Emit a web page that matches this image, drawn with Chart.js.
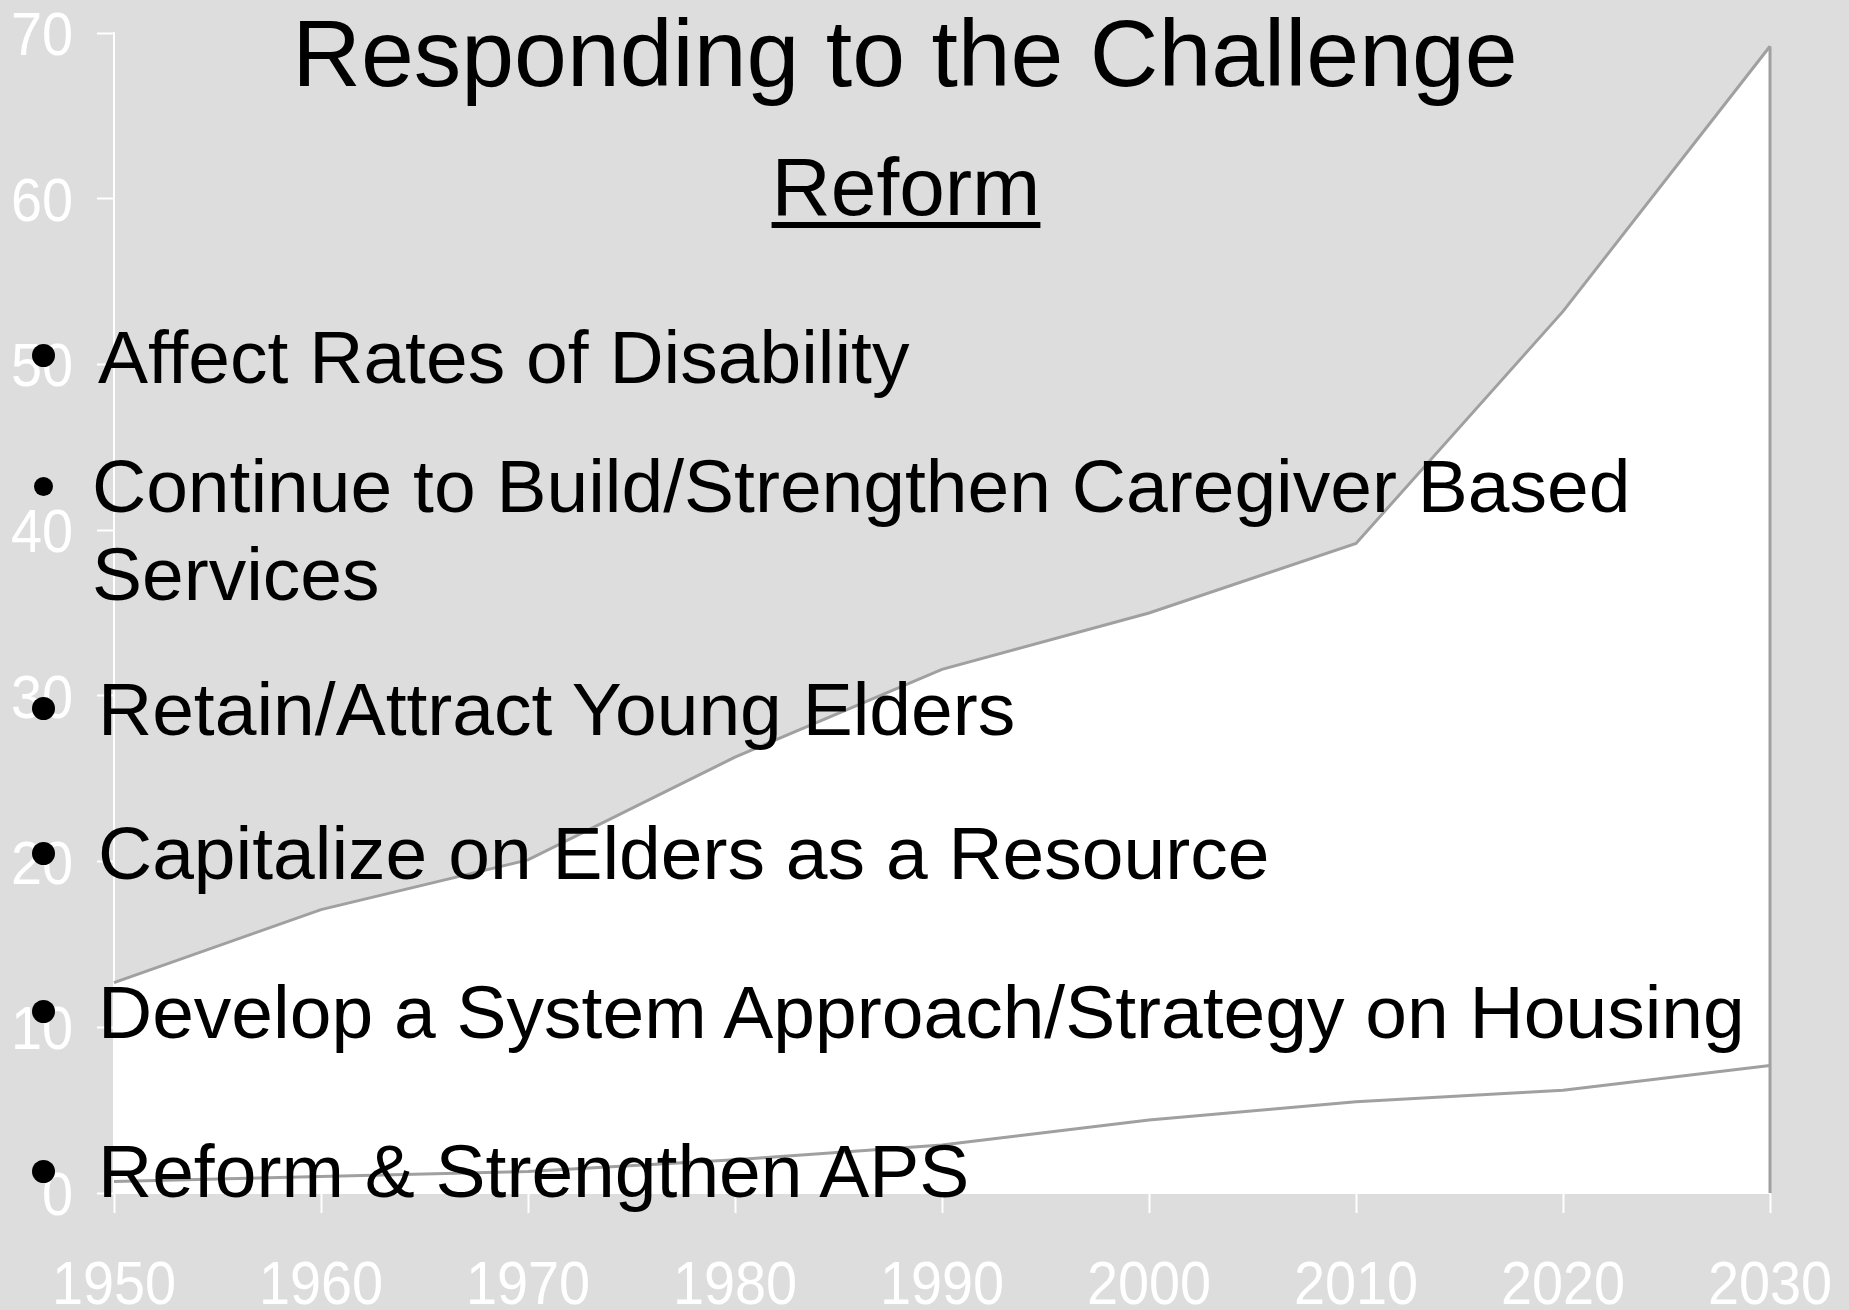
<!DOCTYPE html>
<html lang="en">
<head>
<meta charset="utf-8">
<title>Responding to the Challenge</title>
<script src="https://cdn.jsdelivr.net/npm/chart.js"></script>
<style>
  body { margin: 0; background: #dddddd; overflow: hidden; font-family: "Liberation Sans", Arial, sans-serif; }
  #wrap { position: relative; width: 1849px; height: 1310px; }
  #wrap canvas { position: absolute; left: 0; top: 0; }
  .txt { position: absolute; color: #000; white-space: nowrap; line-height: 1; }
  .dot { position: absolute; background: #000; border-radius: 50%; }
  #title { left: 0; width: 1810px; text-align: center; top: 6px; font-size: 95px; }
  #sub { left: 0; width: 1812px; text-align: center; top: 146px; font-size: 82px;
         text-decoration: underline; text-decoration-thickness: 6px; text-underline-offset: 7px; }
  .item { font-size: 75px; left: 98px; }
</style>
</head>
<body>
<div id="wrap">
  <canvas id="grafico"></canvas>

  <!-- slide text laid over the chart -->
  <div class="txt" id="title">Responding to the Challenge</div>
  <div class="txt" id="sub">Reform</div>

  <div class="dot" style="left:32px; top:344px; width:23px; height:23px;"></div>
  <div class="txt item" style="top:320px;">Affect Rates of Disability</div>

  <div class="dot" style="left:34px; top:477px; width:19px; height:19px;"></div>
  <div class="txt item" style="top:449px; left:92px;">Continue to Build/Strengthen Caregiver Based</div>
  <div class="txt item" style="top:537px; left:92px;">Services</div>

  <div class="dot" style="left:32px; top:697px; width:23px; height:23px;"></div>
  <div class="txt item" style="top:672px;">Retain/Attract Young Elders</div>

  <div class="dot" style="left:32px; top:842px; width:23px; height:23px;"></div>
  <div class="txt item" style="top:816px;">Capitalize on Elders as a Resource</div>

  <div class="dot" style="left:32px; top:1000px; width:23px; height:23px;"></div>
  <div class="txt item" style="top:975px;">Develop a System Approach/Strategy on Housing</div>

  <div class="dot" style="left:32px; top:1160px; width:23px; height:23px;"></div>
  <div class="txt item" style="top:1134px;">Reform &amp; Strengthen APS</div>
</div>

<script>
// data
const years = ['1950', '1960', '1970', '1980', '1990', '2000', '2010', '2020', '2030'];
const upperSeries = [12.7, 17.1, 20.1, 26.3, 31.6, 35.0, 39.2, 53.2, 69.2];
const lowerSeries = [0.7, 1.0, 1.3, 2.0, 2.9, 4.4, 5.5, 6.2, 7.7];
const yMin = 0;
const yMax = 70;
const yStep = 10;

const gris = '#a0a0a0';

// closing edge of the area at the last category (like the office chart outline)
const bordeArea = {
  id: 'bordeArea',
  afterDatasetsDraw(chart) {
    const meta = chart.getDatasetMeta(1);
    const last = meta.data[meta.data.length - 1];
    const y0 = chart.scales.y.getPixelForValue(0);
    const c = chart.ctx;
    c.save();
    c.strokeStyle = gris;
    c.lineWidth = 3;
    c.beginPath();
    c.moveTo(last.x, last.y);
    c.lineTo(last.x, y0);
    c.stroke();
    c.restore();
  }
};

// tick labels in the original are tall and narrow: draw the scale's own ticks squeezed
function textoEstrecho(c, txt, x, y, align) {
  c.save();
  c.translate(x, y);
  c.scale(0.9, 1);
  c.textAlign = align;
  c.fillText(txt, 0, 0);
  c.restore();
}

const etiquetas = {
  id: 'etiquetas',
  afterDraw(chart) {
    const c = chart.ctx;
    const sx = chart.scales.x;
    const sy = chart.scales.y;
    c.save();
    c.fillStyle = '#ffffff';
    c.font = '62px "Liberation Sans", Arial, sans-serif';
    c.textBaseline = 'alphabetic';
    sx.ticks.forEach((t, i) => {
      textoEstrecho(c, t.label, sx.getPixelForTick(i), sx.top + 111, 'center');
    });
    sy.ticks.forEach((t, i) => {
      textoEstrecho(c, t.label, sy.right - 41, sy.getPixelForTick(i) + 22, 'right');
    });
    c.restore();
  }
};

const ctx = document.getElementById('grafico').getContext('2d');

new Chart(ctx, {
  type: 'line',
  data: {
    labels: years,
    datasets: [
      {
        label: 'lower',
        data: lowerSeries,
        borderColor: gris,
        borderWidth: 3,
        backgroundColor: '#ffffff',
        fill: 'origin',
        pointRadius: 0,
        tension: 0
      },
      {
        label: 'upper',
        data: upperSeries,
        borderColor: gris,
        borderWidth: 3,
        backgroundColor: '#ffffff',
        fill: 'origin',
        pointRadius: 0,
        tension: 0
      }
    ]
  },
  options: {
    responsive: true,
    maintainAspectRatio: false,
    animation: false,
    layout: { padding: { top: 33, right: 79, left: 0, bottom: 0 } },
    plugins: {
      legend: { display: false },
      tooltip: { enabled: false }
    },
    scales: {
      x: {
        type: 'category',
        offset: false,
        z: 1,
        grid: { drawOnChartArea: false, offset: false, tickLength: 20, tickColor: '#ffffff', tickWidth: 2 },
        border: { color: '#ffffff', width: 2 },
        ticks: { display: false, autoSkip: false, maxRotation: 0 },
        afterFit(s) { s.height = 117; s.paddingLeft = 0; s.paddingRight = 0; }
      },
      y: {
        min: yMin,
        max: yMax,
        z: 1,
        ticks: { display: false, stepSize: yStep },
        grid: { drawOnChartArea: false, tickLength: 17, tickColor: '#ffffff', tickWidth: 2 },
        border: { color: '#ffffff', width: 2 },
        afterFit(s) { s.width = 114; s.paddingTop = 0; s.paddingBottom = 0; }
      }
    }
  },
  plugins: [bordeArea, etiquetas]
});
</script>
</body>
</html>
